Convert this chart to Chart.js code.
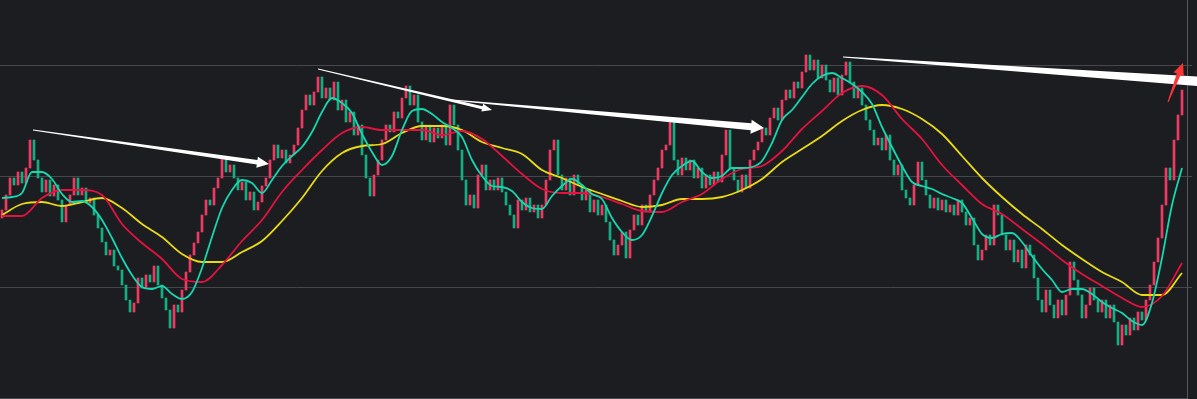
<!DOCTYPE html>
<html>
<head>
<meta charset="utf-8">
<script src="https://cdn.jsdelivr.net/npm/chart.js@4/dist/chart.umd.min.js"></script>
<style>
  html, body { margin: 0; padding: 0; background: #1c1d21; overflow: hidden; }
  #wrap { width: 1197px; height: 399px; }
</style>
</head>
<body>
<div id="wrap"><canvas id="grafico" width="1197" height="399"></canvas></div>
<script>
// daily candles, one close per day, open = previous close
const primeiraAbertura = 182;
const fechamentos = [
  190, 205, 222, 215, 228, 217, 232, 260,
  240, 222, 208, 220, 204, 215, 200, 178, 195, 205, 222, 205, 212, 197, 202, 185, 172,
  158, 145, 150, 134, 130, 115, 100, 88, 97, 122, 112, 125, 118, 134, 115, 102, 90, 72, 95, 88, 110, 128, 145, 157, 168,
  185, 200, 195, 212, 222, 242, 228, 235, 222, 210, 218, 200, 208, 190, 198, 214, 222, 240, 255, 242, 250, 237, 245, 255, 272,
  290, 305, 295, 308, 323, 302, 312, 300, 318, 290, 300, 278, 288, 265, 275, 245, 222, 204, 225, 240, 260, 275, 268, 288, 282,
  302, 314, 295, 305, 278, 260, 275, 258, 272, 262, 275, 255, 295, 275, 250, 220, 195, 205, 192, 225, 235, 210, 220, 210, 222,
  208, 195, 185, 172, 200, 190, 202, 188, 195, 182, 195, 220, 250, 260, 225, 210, 222, 205, 225, 215, 200, 210, 188, 200, 185,
  195, 178, 160, 145, 155, 168, 142, 170, 185, 175, 195, 188, 205, 220, 232, 250, 255, 278, 240, 225, 242, 230, 240, 222, 232,
  212, 225, 215, 228, 218, 245, 270, 232, 220, 208, 225, 212, 240, 250, 258, 272, 265, 282, 292, 280, 300, 310, 302, 318, 312,
  328, 345, 330, 340, 322, 335, 320, 308, 322, 305, 325, 338, 318, 302, 312, 295, 280, 270, 255, 262, 250, 265, 240, 225, 235,
  210, 202, 195, 215, 238, 220, 205, 192, 202, 190, 200, 188, 195, 185, 200, 188, 175, 182, 155, 140, 150, 165, 155, 195, 185,
  165, 150, 160, 138, 150, 132, 155, 145, 122, 100, 88, 110, 95, 82, 100, 85, 105, 138, 120, 105, 82, 95, 112, 100, 88,
  100, 82, 95, 78, 55, 75, 65, 82, 70, 88, 80, 100, 115, 138, 162, 195, 232, 220, 260, 285, 310
];

// moving averages
const passoRapida = 2.5;   // days between samples of the fast average
const mediaRapida = [
  202, 203, 207, 228, 228, 221, 206, 198, 199, 193,
  180, 162, 142, 125, 113, 111, 114, 106, 101, 108,
  132, 163, 192, 210, 220, 217, 207, 220, 234, 244,
  253, 268, 288, 302, 297, 287, 266, 248, 235, 244,
  270, 289, 291, 286, 278, 272, 263, 240, 224, 214,
  213, 209, 198, 192, 191, 204, 214, 221, 215, 206,
  201, 182, 168, 160, 165, 184, 207, 225, 234, 239,
  228, 222, 224, 232, 232, 233, 239, 257, 280, 290,
  303, 316, 324, 327, 322, 316, 308, 296, 273, 253,
  234, 218, 214, 211, 206, 202, 197, 182, 166, 162,
  166, 167, 158, 144, 131, 120, 108, 111, 111, 106,
  98, 92, 87, 79, 75, 97, 142, 195, 232
];
const passoLenta = 5;
const mediaMedia = [
  184, 184, 202, 210, 210, 205, 176, 157, 141, 121,
  118, 135, 159, 180, 208, 230, 250, 267, 273, 270,
  270, 270, 265, 269, 261, 244, 226, 211, 207, 207,
  203, 196, 189, 188, 198, 206, 221, 231, 234, 249,
  271, 289, 307, 314, 305, 281, 261, 235, 215, 196,
  186, 171, 156, 140, 126, 114, 102, 93, 104, 137
];
const mediaLonga = [
  185, 196, 198, 194, 198, 202, 192, 176, 163, 146,
  138, 138, 148, 159, 179, 202, 229, 247, 254, 256,
  267, 274, 274, 270, 258, 252, 246, 230, 222, 213,
  206, 199, 193, 195, 201, 201, 203, 210, 221, 238,
  251, 264, 279, 290, 295, 291, 281, 266, 244, 222,
  203, 186, 171, 155, 141, 128, 118, 105, 105, 127
];

const linhasGrade = [113, 224, 335];

// hand drawn arrows: [dayStart, priceStart, dayTip, priceTip, widthStart, widthEnd, headLen, headWidth]
const setasBrancas = [
  [7.75, 270, 66.75, 236, 1, 4.5, 12, 11],
  [79, 331, 122.5, 290, 0.8, 3, 10, 8],
  [112.5, 300, 190.5, 272, 0.8, 7, 13, 14],
  [210.25, 343, 305, 317, 0.8, 9.6, 18, 20]
];
const setaVermelha = [291.5, 298, 295.25, 337, 1, 4, 12, 11];

const corAlta = '#ec3a60';
const corBaixa = '#15ad82';

const candles = fechamentos.map((c, i) => {
  const abertura = i === 0 ? primeiraAbertura : fechamentos[i - 1];
  return { x: i, y: [abertura, c] };
});
const coresCandles = candles.map(c => c.y[1] >= c.y[0] ? corAlta : corBaixa);

function pontos(valores, passo) {
  return valores.map((v, k) => ({ x: k * passo, y: v }));
}

function desenharSeta(ctx, sx, sy, s, cor) {
  const x0 = sx.getPixelForValue(s[0]), y0 = sy.getPixelForValue(s[1]);
  const x1 = sx.getPixelForValue(s[2]), y1 = sy.getPixelForValue(s[3]);
  const dx = x1 - x0, dy = y1 - y0;
  const len = Math.sqrt(dx * dx + dy * dy);
  const ux = dx / len, uy = dy / len;
  const nx = -uy, ny = ux;
  const bx = x1 - ux * s[6], by = y1 - uy * s[6];
  ctx.save();
  ctx.fillStyle = cor;
  ctx.beginPath();
  ctx.moveTo(x0 + nx * s[4] / 2, y0 + ny * s[4] / 2);
  ctx.lineTo(bx + nx * s[5] / 2, by + ny * s[5] / 2);
  ctx.lineTo(bx + nx * s[7] / 2, by + ny * s[7] / 2);
  ctx.lineTo(x1, y1);
  ctx.lineTo(bx - nx * s[7] / 2, by - ny * s[7] / 2);
  ctx.lineTo(bx - nx * s[5] / 2, by - ny * s[5] / 2);
  ctx.lineTo(x0 - nx * s[4] / 2, y0 - ny * s[4] / 2);
  ctx.closePath();
  ctx.fill();
  ctx.restore();
}

const pluginSetas = {
  id: 'setas',
  afterDatasetsDraw(chart) {
    const ctx = chart.ctx;
    const sx = chart.scales.x, sy = chart.scales.y;
    setasBrancas.forEach(s => desenharSeta(ctx, sx, sy, s, '#ffffff'));
    desenharSeta(ctx, sx, sy, setaVermelha, '#ff3434');
  }
};

const ctx = document.getElementById('grafico').getContext('2d');
new Chart(ctx, {
  data: {
    datasets: [
      {
        type: 'line',
        data: pontos(mediaRapida, passoRapida),
        borderColor: '#14d8b0',
        borderWidth: 1.8,
        pointRadius: 0,
        cubicInterpolationMode: 'monotone',
        order: 0
      },
      {
        type: 'line',
        data: pontos(mediaMedia, passoLenta),
        borderColor: '#e3123f',
        borderWidth: 1.8,
        pointRadius: 0,
        cubicInterpolationMode: 'monotone',
        order: 0
      },
      {
        type: 'line',
        data: pontos(mediaLonga, passoLenta),
        borderColor: '#e9da14',
        borderWidth: 1.8,
        pointRadius: 0,
        cubicInterpolationMode: 'monotone',
        order: 0
      },
      {
        type: 'bar',
        data: candles,
        backgroundColor: coresCandles,
        barThickness: 2,
        minBarLength: 1,
        order: 1
      }
    ]
  },
  options: {
    responsive: false,
    animation: false,
    devicePixelRatio: 1,
    layout: { padding: 0 },
    plugins: { legend: { display: false }, tooltip: { enabled: false } },
    scales: {
      x: {
        type: 'linear',
        offset: false,
        min: -0.5,
        max: 296.25,
        ticks: { display: false },
        grid: { display: false, offset: false },
        border: { display: true, color: '#4a4b50' },
        afterFit: scale => { scale.height = 1; }
      },
      y: {
        position: 'right',
        min: 2,
        max: 400,
        ticks: { display: false },
        grid: { color: '#46474c', tickLength: 5 },
        border: { display: true, color: '#55565b' },
        afterBuildTicks: scale => { scale.ticks = linhasGrade.map(v => ({ value: v })); },
        afterFit: scale => { scale.width = 10; }
      }
    }
  },
  plugins: [pluginSetas]
});
</script>
</body>
</html>
